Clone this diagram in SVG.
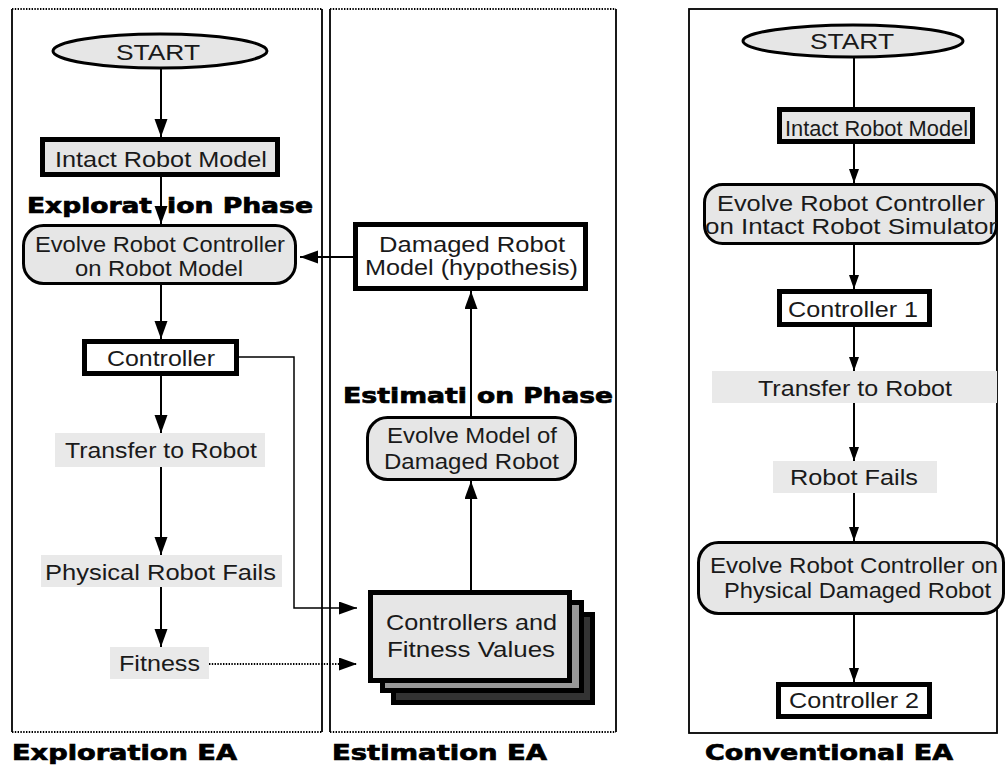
<svg xmlns="http://www.w3.org/2000/svg" width="1008" height="771" viewBox="0 0 1008 771">
<style>
.t{font-family:"Liberation Sans",Arial,sans-serif;font-size:22px;fill:#1a1a1a}
.b{font-family:"DejaVu Sans","Liberation Sans",sans-serif;font-weight:bold;font-size:21px;fill:#000;stroke:#000;stroke-width:0.7}
.thick{fill:#fff;stroke:#000;stroke-width:5}
.thickg{fill:#e6e6e6;stroke:#000;stroke-width:5}
.rnd{fill:#e6e6e6;stroke:#000;stroke-width:3}
.pl{fill:#e9e9e9;stroke:none}
.con{fill:none;stroke:#000;stroke-width:2}
.thin{fill:none;stroke:#000;stroke-width:1.5}
.dot{fill:none;stroke:#000;stroke-width:2.2;stroke-dasharray:1.4 1.4}
.frame{fill:none;stroke:#000;stroke-width:1.8}
</style>
<defs>
<marker id="ah" markerUnits="userSpaceOnUse" markerWidth="20" markerHeight="14" refX="18" refY="6.5" orient="auto"><path d="M0,0 L18,6.5 L0,13 z" fill="#000"/></marker>
<marker id="as" markerUnits="userSpaceOnUse" markerWidth="16" markerHeight="12" refX="14" refY="5" orient="auto"><path d="M0,0 L14,5 L0,10 z" fill="#000"/></marker>
</defs>
<rect width="1008" height="771" fill="#fff"/>

<g id="panels">
<line class="frame" x1="12" y1="9" x2="12" y2="732"/>
<line class="frame" x1="322" y1="9" x2="322" y2="732"/>
<line class="dot" x1="12" y1="9" x2="322" y2="9"/>
<line class="dot" x1="12" y1="732" x2="322" y2="732"/>
<line class="frame" x1="330" y1="9" x2="330" y2="732"/>
<line class="frame" x1="616" y1="9" x2="616" y2="732"/>
<line class="dot" x1="330" y1="9" x2="616" y2="9"/>
<line class="dot" x1="330" y1="732" x2="616" y2="732"/>
<rect class="frame" x="689" y="9" width="308" height="724"/>
</g>

<g id="connectors">
<path class="con" d="M161,68 V137" marker-end="url(#ah)"/>
<path class="con" d="M161,177 V224" marker-end="url(#ah)"/>
<path class="con" d="M161,285 V339" marker-end="url(#ah)"/>
<path class="con" d="M161,376 V433" marker-end="url(#ah)"/>
<path class="con" d="M161,467 V555" marker-end="url(#ah)"/>
<path class="con" d="M161,587 V647" marker-end="url(#ah)"/>
<path class="thin" d="M239,357 H294 V608 H357" marker-end="url(#ah)"/>
<path class="dot" d="M209,664 H357" marker-end="url(#ah)"/>
<path class="con" d="M353,257 H300" marker-end="url(#ah)"/>
<path class="con" d="M471,416 V291" marker-end="url(#ah)"/>
<path class="con" d="M471,590 V481" marker-end="url(#ah)"/>
<path class="con" d="M854,58 V107"/>
<path class="con" d="M854,144 V183" marker-end="url(#as)"/>
<path class="con" d="M854,245 V289" marker-end="url(#as)"/>
<path class="con" d="M854,327 V371" marker-end="url(#as)"/>
<path class="con" d="M854,403 V461" marker-end="url(#as)"/>
<path class="con" d="M854,493 V541" marker-end="url(#as)"/>
<path class="con" d="M854,615 V682" marker-end="url(#as)"/>
</g>

<g id="start-left">
<ellipse class="rnd" cx="160" cy="51" rx="107" ry="17"/>
<text class="t" x="116" y="60" textLength="84" lengthAdjust="spacingAndGlyphs">START</text>
</g>
<g id="intact-left">
<rect class="thickg" x="42.5" y="139.5" width="235" height="35"/>
<text class="t" x="55" y="167" font-size="23" textLength="212" lengthAdjust="spacingAndGlyphs">Intact Robot Model</text>
</g>
<g id="exploration-phase">
<text class="b"><tspan x="27" y="213" textLength="125" lengthAdjust="spacingAndGlyphs">Explorat</tspan><tspan x="167" y="213" textLength="146" lengthAdjust="spacingAndGlyphs">ion Phase</tspan></text>
</g>
<g id="evolve-left">
<rect class="rnd" x="23.5" y="225.5" width="272" height="58" rx="20"/>
<text class="t" x="35" y="252" textLength="250" lengthAdjust="spacingAndGlyphs">Evolve Robot Controller</text>
<text class="t" x="75" y="276" textLength="168" lengthAdjust="spacingAndGlyphs">on Robot Model</text>
</g>
<g id="controller-left">
<rect class="thick" x="84.5" y="341.5" width="152" height="32"/>
<text class="t" x="107" y="366" textLength="108" lengthAdjust="spacingAndGlyphs">Controller</text>
</g>
<g id="transfer-left">
<rect class="pl" x="55" y="433" width="210" height="34"/>
<text class="t" x="65" y="458" textLength="192" lengthAdjust="spacingAndGlyphs">Transfer to Robot</text>
</g>
<g id="fails-left">
<rect class="pl" x="41" y="555" width="241" height="32"/>
<text class="t" x="45" y="580" textLength="231" lengthAdjust="spacingAndGlyphs">Physical Robot Fails</text>
</g>
<g id="fitness">
<rect class="pl" x="110" y="647" width="99" height="32"/>
<text class="t" x="119" y="671" textLength="81" lengthAdjust="spacingAndGlyphs">Fitness</text>
</g>

<g id="damaged-model">
<rect class="thick" x="355.5" y="224.5" width="230" height="64"/>
<text class="t" x="379" y="252" textLength="186" lengthAdjust="spacingAndGlyphs">Damaged Robot</text>
<text class="t" x="365" y="275" textLength="213" lengthAdjust="spacingAndGlyphs">Model (hypothesis)</text>
</g>
<g id="estimation-phase">
<text class="b"><tspan x="343" y="403" textLength="124" lengthAdjust="spacingAndGlyphs">Estimati</tspan><tspan x="477" y="403" textLength="136" lengthAdjust="spacingAndGlyphs">on Phase</tspan></text>
</g>
<g id="evolve-model">
<rect class="rnd" x="367.5" y="417.5" width="208" height="62" rx="20"/>
<text class="t" x="387" y="443" textLength="170" lengthAdjust="spacingAndGlyphs">Evolve Model of</text>
<text class="t" x="384" y="469" textLength="175" lengthAdjust="spacingAndGlyphs">Damaged Robot</text>
</g>
<g id="controllers-fitness">
<rect x="393.5" y="614.5" width="199" height="88" fill="#333" stroke="#000" stroke-width="5"/>
<rect x="382.5" y="602.5" width="199" height="88" fill="#999" stroke="#000" stroke-width="5"/>
<rect class="thickg" x="370.5" y="592.5" width="199" height="88"/>
<text class="t" x="386" y="630" textLength="171" lengthAdjust="spacingAndGlyphs">Controllers and</text>
<text class="t" x="387" y="657" textLength="168" lengthAdjust="spacingAndGlyphs">Fitness Values</text>
</g>

<g id="start-right">
<ellipse class="rnd" cx="853" cy="41" rx="110" ry="16"/>
<text class="t" x="810" y="49" textLength="84" lengthAdjust="spacingAndGlyphs">START</text>
</g>
<g id="intact-right">
<rect class="thickg" x="779.5" y="109.5" width="193" height="32"/>
<text class="t" x="785" y="136" textLength="183" lengthAdjust="spacingAndGlyphs">Intact Robot Model</text>
</g>
<g id="evolve-right-1">
<rect class="rnd" x="704.5" y="184.5" width="292" height="59" rx="18"/>
<text class="t" x="717" y="211" textLength="268" lengthAdjust="spacingAndGlyphs">Evolve Robot Controller</text>
<text class="t" x="705" y="234" textLength="292" lengthAdjust="spacingAndGlyphs">on Intact Robot Simulator</text>
</g>
<g id="controller-1">
<rect class="thick" x="779.5" y="291.5" width="150" height="33"/>
<text class="t" x="788" y="317" textLength="130" lengthAdjust="spacingAndGlyphs">Controller 1</text>
</g>
<g id="transfer-right">
<rect class="pl" x="712" y="371" width="285" height="32"/>
<text class="t" x="758" y="396" textLength="194" lengthAdjust="spacingAndGlyphs">Transfer to Robot</text>
</g>
<g id="robot-fails">
<rect class="pl" x="773" y="461" width="164" height="32"/>
<text class="t" x="790" y="485" textLength="128" lengthAdjust="spacingAndGlyphs">Robot Fails</text>
</g>
<g id="evolve-right-2">
<rect class="rnd" x="698.5" y="542.5" width="305" height="71" rx="20"/>
<text class="t" x="710" y="573" textLength="288" lengthAdjust="spacingAndGlyphs">Evolve Robot Controller on</text>
<text class="t" x="724" y="598" textLength="267" lengthAdjust="spacingAndGlyphs">Physical Damaged Robot</text>
</g>
<g id="controller-2">
<rect class="thick" x="778.5" y="684.5" width="151" height="32"/>
<text class="t" x="789" y="708" textLength="130" lengthAdjust="spacingAndGlyphs">Controller 2</text>
</g>

<g id="captions">
<text class="b" x="12" y="760" font-size="23" textLength="225" lengthAdjust="spacingAndGlyphs">Exploration EA</text>
<text class="b" x="332" y="760" font-size="23" textLength="215" lengthAdjust="spacingAndGlyphs">Estimation EA</text>
<text class="b" x="705" y="760" font-size="23" textLength="248" lengthAdjust="spacingAndGlyphs">Conventional EA</text>
</g>
</svg>
